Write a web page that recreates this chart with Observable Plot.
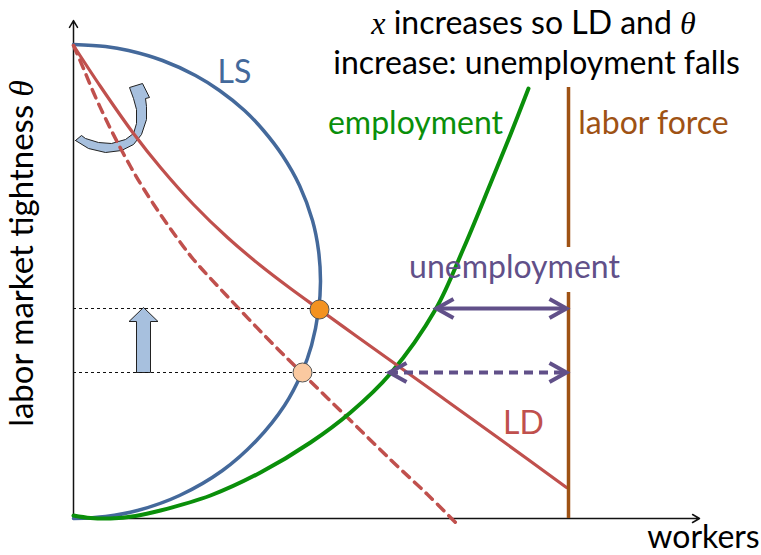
<!DOCTYPE html>
<html>
<head>
<meta charset="utf-8">
<script src="https://cdn.jsdelivr.net/npm/d3@7"></script>
<script src="https://cdn.jsdelivr.net/npm/@observablehq/plot@0.6"></script>
<style>
  html, body { margin: 0; padding: 0; background: #fff; }
  #chart svg { display: block; }
</style>
</head>
<body>
<div id="chart"></div>
<script>
// ---- data (chart units: workers on x, labor market tightness θ on y) ----
const lsCurve = [[0,474],[32,472],[55,468],[89,458],[122,443],[146,428],[171,408],[190,388],[209,363],[226,333],[239,298],[245,268],[247,237],[245,208],[238,173],[228,145],[211,113],[183,78],[149,48],[106,23],[64,8],[32,2],[0,0]];
const employmentCurve = [[0,3],[17,0.5],[37,0],[62,2.5],[87,8],[137,23],[187,46],[237,76],[277,106],[317,145],[362,209],[390,270],[417,335],[437,384],[455,430]];
const ldNew = [[0,473],[27,432],[60,385],[87,351],[120,314],[154,281],[187,253],[217,230],[246,209],[282,183],[317,158],[370,120],[427,79],[493,31]];
const ldOld = [[0,473],[10,450],[20,426],[32,400],[44,376],[57,352],[70,330],[87,304],[104,280],[120,259],[154,222],[192,182],[229,145],[277,98],[320,56],[354,24],[382,-4]];
const laborForceX = 495;
const laborForceSegments = [{y1: 0, y2: 226}, {y1: 271, y2: 431}];
const unemployment = [
  {y: 210, x1: 363, x2: 493, state: "new"},
  {y: 146, x1: 316, x2: 493, state: "old"}
];
const equilibria = [
  {x: 246, y: 209, state: "new"},
  {x: 229, y: 146, state: "old"}
];
const upShift = [{x: 70, y1: 146, y2: 211}];
const turnArrowOutline = [[2,378],[15,370],[32,366],[48,368],[60,374],[68,384],[73,399],[73,412],[72,420],[76,421],[69,435],[56,431],[60,420],[63,409],[63,395],[60,385],[52,379],[38,375],[25,376],[12,380],[8,383],[2,378]];
const axisEnds = {x: 626, y: 498};
const labels = {
  title1: {text: "x increases so LD and θ", x: 460, y: 485},
  title2: {text: "increase: unemployment falls", x: 463, y: 445},
  employment: {text: "employment", x: 342, y: 385},
  laborForce: {text: "labor force", x: 580, y: 385},
  unemployment: {text: "unemployment", x: 441, y: 241},
  ls: {text: "LS", x: 161, y: 436},
  ld: {text: "LD", x: 450, y: 85},
  xLabel: {text: "workers", x: 630, y: -29},
  yLabel: {text: "labor market tightness θ", x: -41, y: 265}
};

// ---- styles ----
const BLUE = "#44699b", RED = "#c0504d", GREEN = "#0a8f0a", BROWN = "#9e5214",
      PURPLE = "#615089", LIGHTBLUE = "#a7c0de", ORANGE = "#f39220", PEACH = "#fac9a0";
const FONT = 32;

// open chevron symbol pointing to +x
const chevron = {
  draw(ctx, size) {
    const s = Math.sqrt(size / Math.PI);
    ctx.moveTo(-s, -0.56 * s);
    ctx.lineTo(0, 0);
    ctx.lineTo(-s, 0.56 * s);
  }
};

// block up-arrow polygon from its data
function blockUp(d, shaft = 7, head = 14.5, headLen = 14) {
  const hy = d.y2 - headLen;
  return [[d.x - shaft, d.y1], [d.x + shaft, d.y1], [d.x + shaft, hy], [d.x + head, hy],
          [d.x, d.y2], [d.x - head, hy], [d.x - shaft, hy], [d.x - shaft, d.y1]];
}

const chevronPoints = unemployment.flatMap(d => [
  {x: d.x1, y: d.y, rot: 180}, {x: d.x2, y: d.y, rot: 0}
]);

const txt = (l, opts) => Plot.text([l], {x: "x", y: "y", text: "text", lineAnchor: "bottom", fontSize: FONT, ...opts});

const chart = Plot.plot({
  width: 761,
  height: 555,
  marginLeft: 73,
  marginRight: 60,
  marginTop: 15,
  marginBottom: 37,
  x: {domain: [0, 628], axis: null},
  y: {domain: [0, 503], axis: null},
  style: {fontFamily: "Lato, sans-serif", background: "#fff"},
  marks: [
    // axes
    Plot.arrow([{x1: 0, y1: 0, x2: axisEnds.x, y2: 0}, {x1: 0, y1: 0, x2: 0, y2: axisEnds.y}],
      {x1: "x1", y1: "y1", x2: "x2", y2: "y2", stroke: "#111", strokeWidth: 1.5, headLength: 8}),
    // light blue block arrows
    Plot.line(turnArrowOutline, {fill: LIGHTBLUE, stroke: "#222", strokeWidth: 1}),
    Plot.line(blockUp(upShift[0]), {fill: LIGHTBLUE, stroke: "#222", strokeWidth: 1}),
    // LS
    Plot.line(lsCurve, {stroke: BLUE, strokeWidth: 3.5, curve: "catmull-rom"}),
    // old LD (dashed)
    Plot.line(ldOld, {stroke: RED, strokeWidth: 3.5, strokeDasharray: "9,7", curve: "catmull-rom"}),
    // employment
    Plot.line(employmentCurve, {stroke: GREEN, strokeWidth: 4, curve: "catmull-rom"}),
    // new LD
    Plot.line(ldNew, {stroke: RED, strokeWidth: 3.2, curve: "catmull-rom"}),
    // labor force
    Plot.ruleX(laborForceSegments, {x: () => laborForceX, y1: "y1", y2: "y2", stroke: BROWN, strokeWidth: 3.5}),
    // dotted guides
    Plot.ruleY(unemployment, {y: "y", x1: () => 0, x2: "x1", stroke: "#111", strokeWidth: 1.2, strokeDasharray: "3,3"}),
    // unemployment spans
    Plot.ruleY(unemployment.filter(d => d.state === "new"), {y: "y", x1: "x1", x2: "x2", stroke: PURPLE, strokeWidth: 4}),
    Plot.ruleY(unemployment.filter(d => d.state === "old"), {y: "y", x1: "x1", x2: "x2", stroke: PURPLE, strokeWidth: 4, strokeDasharray: "9,6"}),
    Plot.dot(chevronPoints, {x: "x", y: "y", rotate: "rot", symbol: chevron, r: 17, fill: "none", stroke: PURPLE, strokeWidth: 4}),
    // equilibrium points
    Plot.dot(equilibria, {x: "x", y: "y", r: 9.5, fill: d => d.state === "new" ? ORANGE : PEACH, stroke: "#555", strokeWidth: 1}),
    // labels
    txt(labels.title1, {fill: "#000"}),
    txt(labels.title2, {fill: "#000"}),
    txt(labels.employment, {fill: GREEN}),
    txt(labels.laborForce, {fill: BROWN}),
    txt(labels.unemployment, {fill: PURPLE}),
    txt(labels.ls, {fill: BLUE}),
    txt(labels.ld, {fill: RED}),
    txt(labels.xLabel, {fill: "#000"}),
    txt(labels.yLabel, {fill: "#000", rotate: -90, fontSize: 33})
  ]
});

// math symbols (x, θ) in italic serif, like the original
d3.select(chart).selectAll("text").each(function () {
  const s = this.textContent;
  if (!/θ|^x /.test(s)) return;
  const parts = s.split(/(θ|^x(?= ))/).filter(p => p !== "");
  this.textContent = "";
  const el = d3.select(this);
  parts.forEach(p => {
    const t = el.append("tspan").text(p);
    if (p === "θ" || p === "x") t.attr("font-family", "'Liberation Serif', serif").attr("font-style", "italic");
  });
});

document.getElementById("chart").appendChild(chart);
</script>
</body>
</html>
